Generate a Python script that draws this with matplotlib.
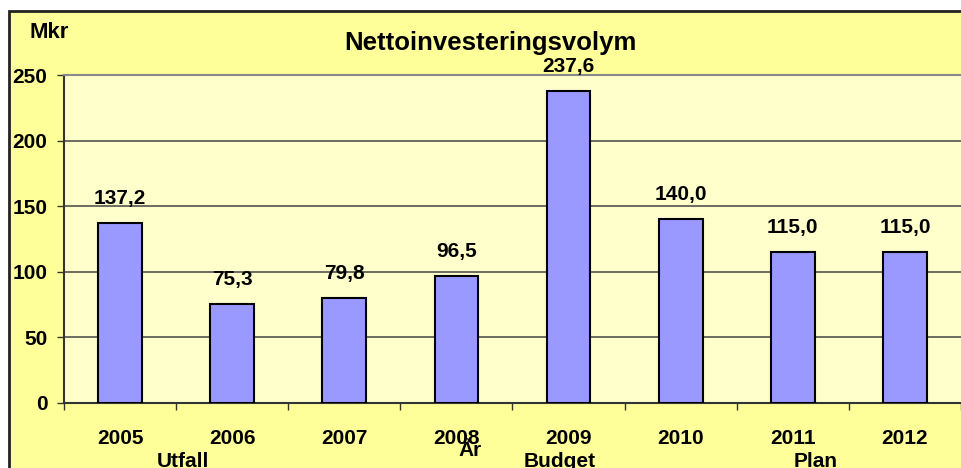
import matplotlib.pyplot as plt
from matplotlib.patches import Rectangle

plt.rcParams['font.family'] = ['Liberation Sans', 'DejaVu Sans']
plt.rcParams['font.weight'] = 'bold'

years = ['2005', '2006', '2007', '2008', '2009', '2010', '2011', '2012']
values = [137.2, 75.3, 79.8, 96.5, 237.6, 140.0, 115.0, 115.0]
groups = ['Utfall', 'År', 'Budget', 'Plan']
group_x = [183, 470, 560, 816]   # pixel centres under the axis
group_top = [452, 441, 452, 452]

W, H = 962, 468
fig = plt.figure(figsize=(W / 100, H / 100), dpi=100)
fig.patch.set_facecolor('white')

# chart area (light yellow box with dark frame, runs off right/bottom)
fig.patches.append(Rectangle((9 / W, -0.05), 1.1, 1 - 11 / H + 0.05,
                             transform=fig.transFigure, facecolor='#FFFF99',
                             edgecolor='#222222', linewidth=2, zorder=-1))

ax = fig.add_axes([64 / W, (H - 403) / H, (961 - 64) / W, (403 - 75) / H])
ax.set_zorder(1)
ax.set_facecolor('#FFFFCC')

x = range(len(years))
ax.bar(x, values, width=0.39, color='#9999FF', edgecolor='black',
       linewidth=1.5, zorder=3)

for xi, v in zip(x, values):
    ax.annotate(f'{v:.1f}'.replace('.', ','), (xi, v), xytext=(0, 14),
                textcoords='offset points', ha='center', va='baseline',
                fontsize=15, fontweight='bold')

ax.set_xlim(-0.5, len(years) - 0.5)
ax.set_ylim(0, 250)
ax.set_yticks([0, 50, 100, 150, 200, 250])
ax.yaxis.grid(True, color='#444444', linewidth=1.1, zorder=1)
ax.set_axisbelow(True)

ax.set_xticks([i - 0.5 for i in range(len(years) + 1)])
ax.set_xticklabels([])
ax.set_xticks(list(x), minor=True)
ax.set_xticklabels(years, minor=True, fontsize=15, fontweight='bold')
ax.tick_params(axis='x', which='major', length=5, width=1, color='#333333')
ax.tick_params(axis='x', which='minor', length=0, pad=19)
ax.tick_params(axis='y', length=5, width=1, color='#333333', pad=7,
               labelsize=15)
for lab in ax.get_yticklabels():
    lab.set_fontweight('bold')

ax.spines['right'].set_visible(False)
ax.spines['top'].set_color('#888888')
ax.spines['top'].set_linewidth(1.5)
ax.spines['left'].set_color('#333333')
ax.spines['left'].set_linewidth(1.5)
ax.spines['bottom'].set_color('#333333')
ax.spines['bottom'].set_linewidth(1.5)

fig.text(490 / W, 1 - 43 / H, 'Nettoinvesteringsvolym', ha='center',
         va='center', fontsize=18.5, fontweight='bold')
fig.text(30 / W, 1 - 33 / H, 'Mkr', ha='left', va='center',
         fontsize=16, fontweight='bold')

for name, gx, gt in zip(groups, group_x, group_top):
    fig.text(gx / W, 1 - gt / H, name, ha='center', va='top',
             fontsize=15, fontweight='bold')

fig.savefig('out.png', dpi=100)
